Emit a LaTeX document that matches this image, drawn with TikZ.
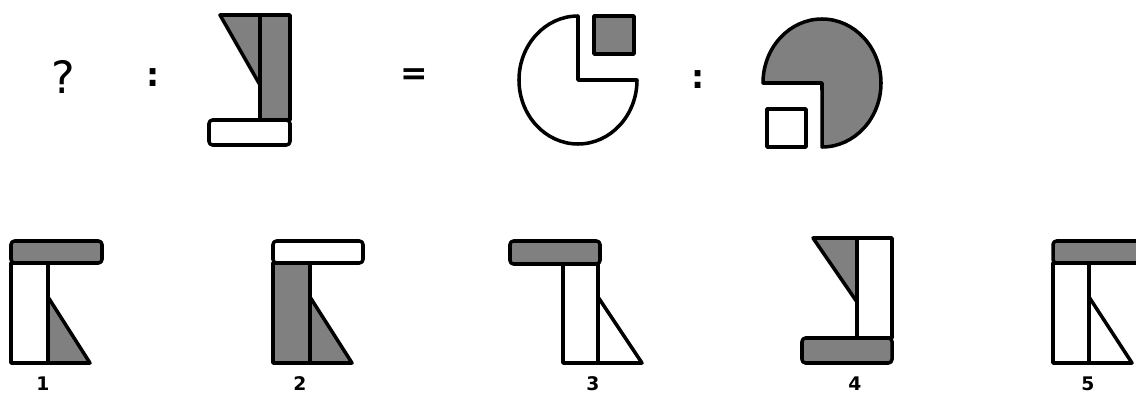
\documentclass[tikz,border=0pt]{standalone}
\usepackage{fontspec}
\setmainfont{DejaVu Sans}
\definecolor{shade}{RGB}{128,128,128}

\begin{document}
\begin{tikzpicture}[
        x=0.03cm, y=-0.03cm,
        piece/.style={draw, line width=3pt, line join=round},
        dark/.style={piece, fill=shade},
        light/.style={piece, fill=white},
        bar/.style={rounded corners=3pt},
        sign/.style={inner sep=0pt, font=\fontsize{28}{32}\selectfont\bfseries},
        num/.style={inner sep=0pt, font=\fontsize{16}{18}\selectfont\bfseries}
    ]
    \useasboundingbox (0,0) rectangle (1136,397);
    \clip (0,0) rectangle (1136,397);

    % --- Question row ---
    \node[inner sep=0pt, font=\fontsize{38}{42}\selectfont] (qmark) at (63,77) {?};
    \node[sign] (colonA) at (153,78) {:};
    \node[sign] (equal) at (414,77) {=};
    \node[sign] (colonB) at (698,80) {:};

    % given figure
    \draw[dark] (220,15) -- (290,15) -- (290,120) -- (260,120) -- (260,85) -- cycle;
    \draw[piece] (260,15) -- (260,85);
    \draw[light, bar] (209,120) rectangle (290,145);

    % pies
    \draw[light] (578,80) -- (578,16) arc[start angle=90, end angle=360, x radius=1.77cm, y radius=1.92cm] -- cycle;
    \draw[dark] (594,16) rectangle (634,54);
    \draw[dark] (822,83) -- (763,83) arc[start angle=180, end angle=-90, x radius=1.77cm, y radius=1.92cm] -- cycle;
    \draw[light] (767,109) rectangle (806,147);

    % --- Answer 1 ---
    \draw[dark, bar] (11,241) rectangle (102,263);
    \draw[light] (11,263) rectangle (48,363);
    \draw[dark] (48,297) -- (48,363) -- (90,363) -- cycle;

    % --- Answer 2 ---
    \draw[light, bar] (273,241) rectangle (363,263);
    \draw[dark] (273,263) rectangle (310,363);
    \draw[dark] (310,297) -- (310,363) -- (352,363) -- cycle;

    % --- Answer 3 ---
    \draw[dark, bar] (510,241) rectangle (600,264);
    \draw[light] (563,264) rectangle (598,363);
    \draw[light] (598,297) -- (598,363) -- (642,363) -- cycle;

    % --- Answer 4 ---
    \draw[dark] (813,238) -- (857,238) -- (857,302) -- cycle;
    \draw[light] (857,238) rectangle (892,338);
    \draw[dark, bar] (802,338) rectangle (892,363);

    % --- Answer 5 ---
    \draw[dark, bar] (1053,241) rectangle (1150,263);
    \draw[light] (1053,263) rectangle (1089,363);
    \draw[light] (1089,297) -- (1089,363) -- (1132,363) -- cycle;

    % numbers
    \foreach \n/\x in {1/43, 2/300, 3/593, 4/855, 5/1088}
        \node[num] (lab\n) at (\x,384) {\n};
\end{tikzpicture}
\end{document}
